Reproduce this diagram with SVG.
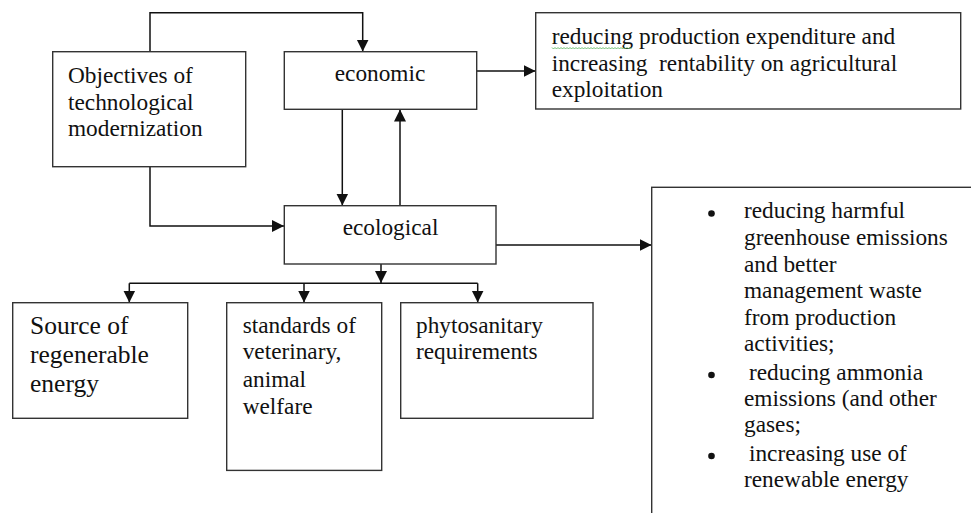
<svg xmlns="http://www.w3.org/2000/svg" width="971" height="513" viewBox="0 0 971 513">
<defs>
<marker id="ah" viewBox="0 0 10 10" refX="10" refY="5" markerWidth="12" markerHeight="13" markerUnits="userSpaceOnUse" orient="auto">
<path d="M0,0 L10,5 L0,10 z" fill="#111"/>
</marker>
</defs>
<rect width="971" height="513" fill="#fff"/>

<g id="connectors" fill="none" stroke="#111" stroke-width="1.5">
<path d="M150,52 V12.7 H362.7 V51.5" marker-end="url(#ah)"/>
<path d="M476.7,71 H535.5" marker-end="url(#ah)"/>
<path d="M342.3,109.3 V205.5" marker-end="url(#ah)"/>
<path d="M400,205.7 V109.5" marker-end="url(#ah)"/>
<path d="M150,166.7 V226 H284" marker-end="url(#ah)"/>
<path d="M496,245 H651.5" marker-end="url(#ah)"/>
<path d="M381,264 V283" marker-end="url(#ah)"/>
<path d="M129.3,283.3 H477.7"/>
<path d="M129.3,283.3 V302.5" marker-end="url(#ah)"/>
<path d="M304,283.3 V302.5" marker-end="url(#ah)"/>
<path d="M477.7,283.3 V302.5" marker-end="url(#ah)"/>
</g>

<g id="objectives">
<rect x="52.7" y="51.7" width="193" height="115" fill="#fff" stroke="#333" stroke-width="1.4"/>
<text style="font-family:Liberation Serif,serif;font-size:23.3px" fill="#111" x="68" y="83">Objectives of</text>
<text style="font-family:Liberation Serif,serif;font-size:23.3px" fill="#111" x="68" y="109.7">technological</text>
<text style="font-family:Liberation Serif,serif;font-size:23.3px" fill="#111" x="68" y="136.3">modernization</text>
</g>

<g id="economic">
<rect x="284.3" y="51.7" width="192.4" height="57.6" fill="#fff" stroke="#333" stroke-width="1.4"/>
<text style="font-family:Liberation Serif,serif;font-size:23.3px" fill="#111" x="380" y="80.7" text-anchor="middle">economic</text>
</g>

<g id="economic-goal">
<rect x="535.7" y="12.7" width="425" height="96.3" fill="#fff" stroke="#333" stroke-width="1.4"/>
<text style="font-family:Liberation Serif,serif;font-size:23.3px" fill="#111" x="551.7" y="44.3">reducing production expenditure and</text>
<text style="font-family:Liberation Serif,serif;font-size:23.3px;white-space:pre" fill="#111" x="551.7" y="71">increasing  rentability on agricultural</text>
<text style="font-family:Liberation Serif,serif;font-size:23.3px" fill="#111" x="551.7" y="96.7">exploitation</text>
<path d="M552,47.5 l1.5,1.5 l1.5,-1.5 l1.5,1.5 l1.5,-1.5 l1.5,1.5 l1.5,-1.5 l1.5,1.5 l1.5,-1.5 l1.5,1.5 l1.5,-1.5 l1.5,1.5 l1.5,-1.5 l1.5,1.5 l1.5,-1.5 l1.5,1.5 l1.5,-1.5 l1.5,1.5 l1.5,-1.5 l1.5,1.5 l1.5,-1.5 l1.5,1.5 l1.5,-1.5 l1.5,1.5 l1.5,-1.5 l1.5,1.5 l1.5,-1.5 l1.5,1.5 l1.5,-1.5 l1.5,1.5 l1.5,-1.5 l1.5,1.5 l1.5,-1.5 l1.5,1.5 l1.5,-1.5 l1.5,1.5 l1.5,-1.5 l1.5,1.5 l1.5,-1.5 l1.5,1.5 l1.5,-1.5 l1.5,1.5 l1.5,-1.5 l1.5,1.5 l1.5,-1.5 l1.5,1.5 l1.5,-1.5 l1.5,1.5 l1.5,-1.5 l1.5,1.5 l1.5,-1.5 l1.5,1.5 l1.5,-1.5 l1.5,1.5" fill="none" stroke="#4caf50" stroke-width="0.8"/>
</g>

<g id="ecological">
<rect x="284.3" y="205.7" width="211.7" height="58.3" fill="#fff" stroke="#333" stroke-width="1.4"/>
<text style="font-family:Liberation Serif,serif;font-size:23.3px" fill="#111" x="390.5" y="235" text-anchor="middle">ecological</text>
</g>

<g id="ecological-goals">
<rect x="651.7" y="187.3" width="330" height="340" fill="#fff" stroke="#333" stroke-width="1.4"/>
<circle cx="711.5" cy="213.5" r="3.3" fill="#111"/>
<circle cx="711.5" cy="375" r="3.3" fill="#111"/>
<circle cx="711.5" cy="456" r="3.3" fill="#111"/>
<text style="font-family:Liberation Serif,serif;font-size:23.3px" fill="#111" x="744" y="218.3">reducing harmful</text>
<text style="font-family:Liberation Serif,serif;font-size:23.3px" fill="#111" x="744" y="245">greenhouse emissions</text>
<text style="font-family:Liberation Serif,serif;font-size:23.3px" fill="#111" x="744" y="271.7">and better</text>
<text style="font-family:Liberation Serif,serif;font-size:23.3px" fill="#111" x="744" y="298.3">management waste</text>
<text style="font-family:Liberation Serif,serif;font-size:23.3px" fill="#111" x="744" y="324.5">from production</text>
<text style="font-family:Liberation Serif,serif;font-size:23.3px" fill="#111" x="744" y="351">activities;</text>
<text style="font-family:Liberation Serif,serif;font-size:23.3px" fill="#111" x="749" y="379.5">reducing ammonia</text>
<text style="font-family:Liberation Serif,serif;font-size:23.3px" fill="#111" x="744" y="406">emissions (and other</text>
<text style="font-family:Liberation Serif,serif;font-size:23.3px" fill="#111" x="744" y="432">gases;</text>
<text style="font-family:Liberation Serif,serif;font-size:23.3px" fill="#111" x="749" y="460.7">increasing use of</text>
<text style="font-family:Liberation Serif,serif;font-size:23.3px" fill="#111" x="744" y="486.7">renewable energy</text>
</g>

<g id="source">
<rect x="12.7" y="302.7" width="175" height="115.6" fill="#fff" stroke="#333" stroke-width="1.4"/>
<text style="font-family:Liberation Serif,serif;font-size:25.5px" fill="#111" x="30" y="334">Source of</text>
<text style="font-family:Liberation Serif,serif;font-size:25.5px" fill="#111" x="30" y="363">regenerable</text>
<text style="font-family:Liberation Serif,serif;font-size:25.5px" fill="#111" x="30" y="392">energy</text>
</g>

<g id="standards">
<rect x="226.7" y="302.7" width="155" height="167.7" fill="#fff" stroke="#333" stroke-width="1.4"/>
<text style="font-family:Liberation Serif,serif;font-size:23.3px" fill="#111" x="242.7" y="332.7">standards of</text>
<text style="font-family:Liberation Serif,serif;font-size:23.3px" fill="#111" x="242.7" y="359.3">veterinary,</text>
<text style="font-family:Liberation Serif,serif;font-size:23.3px" fill="#111" x="242.7" y="386.7">animal</text>
<text style="font-family:Liberation Serif,serif;font-size:23.3px" fill="#111" x="242.7" y="414">welfare</text>
</g>

<g id="phytosanitary">
<rect x="400.7" y="302.7" width="192.3" height="115.6" fill="#fff" stroke="#333" stroke-width="1.4"/>
<text style="font-family:Liberation Serif,serif;font-size:23.3px" fill="#111" x="416" y="332.7">phytosanitary</text>
<text style="font-family:Liberation Serif,serif;font-size:23.3px" fill="#111" x="416" y="359.3">requirements</text>
</g>
</svg>
